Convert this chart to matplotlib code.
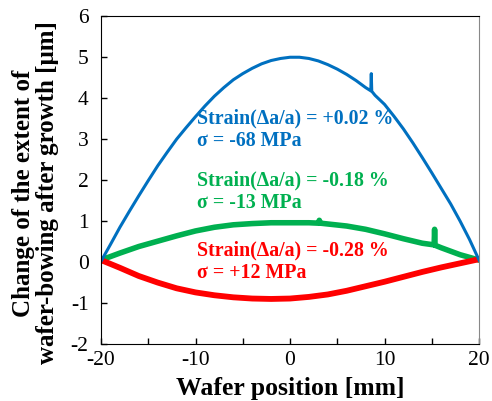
import numpy as np
import matplotlib
matplotlib.use("Agg")
import matplotlib.pyplot as plt
from matplotlib.ticker import MultipleLocator

plt.rcParams['font.family'] = ['Liberation Serif', 'DejaVu Serif']
plt.rcParams['axes.unicode_minus'] = False

# bowing profiles read along the wafer diameter [mm] -> [um]
blue_x = [-20, -19, -18, -17, -16, -15, -14, -13, -12, -11, -10, -9, -8, -7,
          -6, -5, -4, -3, -2, -1, 0, 1, 2, 3, 4, 5, 6, 7, 8,
          8.55, 8.6, 8.65, 9, 10, 11, 12, 13, 14, 15, 16, 17, 18, 19, 20]
blue_y = [0.02, 0.43, 0.85, 1.24, 1.62, 1.99, 2.35, 2.68, 3.0, 3.28, 3.55,
          3.81, 4.05, 4.26, 4.45, 4.6, 4.73, 4.84, 4.92, 4.97, 5.0, 5.0, 4.97,
          4.91, 4.82, 4.71, 4.58, 4.43, 4.26, 4.18, 4.6, 4.17, 4.07, 3.85,
          3.56, 3.25, 2.91, 2.55, 2.18, 1.8, 1.42, 1.0, 0.55, 0.05]

green_x = [-20, -18, -16, -14, -12, -10, -8, -6, -4, -2, 0, 2, 3.0, 3.1, 3.2,
           4, 6, 8, 10, 12, 14, 15.25, 15.3, 15.35, 16, 18, 20]
green_y = [0.05, 0.22, 0.38, 0.51, 0.64, 0.76, 0.85, 0.91, 0.94, 0.96, 0.96,
           0.96, 0.95, 1.02, 0.95, 0.93, 0.88, 0.8, 0.69, 0.57, 0.46, 0.42, 0.8,
           0.41, 0.35, 0.18, 0.05]

red_x = [-20, -18, -16, -14, -12, -10, -8, -6, -4, -2, 0, 2, 4, 6, 8, 10,
         12, 14, 16, 18, 20]
red_y = [0.05, -0.14, -0.34, -0.5, -0.64, -0.74, -0.81, -0.86, -0.89, -0.9,
         -0.89, -0.85, -0.79, -0.7, -0.59, -0.48, -0.36, -0.24, -0.13, -0.03, 0.07]

labels = [
    ("Strain(Δa/a) = +0.02 %", "σ = -68 MPa", "#0070C0", 3.50, 2.96),
    ("Strain(Δa/a) = -0.18 %", "σ = -13 MPa", "#00B050", 2.00, 1.45),
    ("Strain(Δa/a) = -0.28 %", "σ = +12 MPa", "#FF0000", 0.28, -0.26),
]

fig = plt.figure(figsize=(4.92, 4.01), dpi=100)
ax = fig.add_axes([0.2053, 0.1421, 0.7683, 0.8173])

ax.plot(green_x, green_y, color="#00B050", lw=4.0, solid_joinstyle="round")
ax.plot(red_x, red_y, color="#FF0000", lw=4.2, solid_joinstyle="round")
ax.plot(blue_x, blue_y, color="#0070C0", lw=2.2, solid_joinstyle="round")

for strain, sigma, col, y1, y2 in labels:
    ax.text(-9.8, y1, strain, color=col, fontsize=14.3, fontweight="bold", va="center")
    ax.text(-9.8, y2, sigma, color=col, fontsize=14.3, fontweight="bold", va="center")

ax.set_xlim(-20, 20)
ax.set_ylim(-2, 6)
ax.xaxis.set_major_locator(MultipleLocator(10))
ax.xaxis.set_minor_locator(MultipleLocator(5))
ax.yaxis.set_major_locator(MultipleLocator(1))
ax.tick_params(axis="both", which="both", direction="in", length=4, width=1,
               labelsize=15.5, top=False, right=False)
ax.tick_params(axis="x", pad=5)
ax.tick_params(axis="y", pad=9)
for side in ["left", "bottom", "top"]:
    ax.spines[side].set_color("black")
ax.spines["right"].set_color("#888888")

ax.set_xlabel("Wafer position [mm]", fontsize=18.5, fontweight="bold", labelpad=5)
fig.text(0.073, 0.519, "Change of the extent of\nwafer-bowing after growth [μm]",
         rotation=90, ha="center", va="center", fontsize=18, fontweight="bold",
         linespacing=1.05, multialignment="center")

fig.savefig("out.png", dpi=100)
